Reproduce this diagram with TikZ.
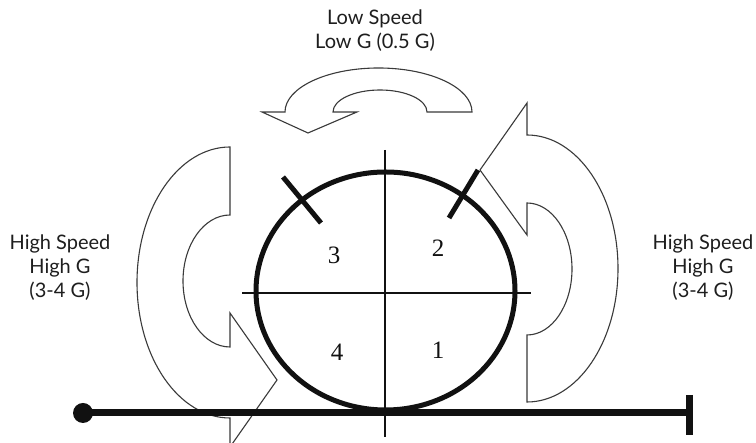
\documentclass[tikz,border=0pt]{standalone}
\usepackage{fontspec}
\setmainfont{Lato}
\newfontfamily\quadfont{Liberation Serif}
\usepackage{tikz}
\usetikzlibrary{
  calc,
  positioning
}
\definecolor{ink}{HTML}{111111}
\definecolor{outline}{HTML}{3A3A3A}
\definecolor{labelink}{HTML}{1E1E1E}
\definecolor{paper}{HTML}{FFFFFF}
\tikzset{
  wheel/.style={
    draw=ink,
    line width=5pt
  },
  axis/.style={
    draw=ink,
    line width=2.6pt
  },
  tickmark/.style={
    draw=ink,
    line width=5pt
  },
  ground/.style={
    draw=ink,
    line width=7pt
  },
  turn/.style={
    draw=outline,
    fill=paper,
    line width=1.1pt,
    line join=miter
  },
  speedlabel/.style={
    text=labelink,
    font=\fontsize{20}{24}\selectfont,
    align=center,
    inner sep=0pt
  },
  quadrant/.style={
    text=ink,
    font=\quadfont\fontsize{25}{25}\selectfont,
    inner sep=0pt
  }
}

\begin{document}
\begin{tikzpicture}[x=1pt, y=1pt]
  \clip (0,0) rectangle (756,443);
  \fill[paper] (0,0) rectangle (756,443);
  % speed labels
  \node[speedlabel] (low) at (375,412) {Low Speed\\Low G (0.5 G)};
  \node[speedlabel] (highleft) at (60,175) {High Speed\\High G\\(3-4 G)};
  \node[speedlabel] (highright) at (703,175) {High Speed\\High G\\(3-4 G)};
  % turning arrows
  \draw[turn] (472,331)
    arc[start angle=0, end angle=180, x radius=93.5pt, y radius=44pt]
    -- (262,331) -- (308,310) -- (357,331) -- (333,331)
    arc[start angle=180, end angle=0, x radius=47pt, y radius=22pt]
    -- cycle;
  \draw[turn] (230,296)
    arc[start angle=90, end angle=270, x radius=93pt, y radius=135.5pt]
    -- (230,-4) -- (277,63) -- (230,130) -- (230,96)
    arc[start angle=270, end angle=90, x radius=47pt, y radius=66pt]
    -- cycle;
  \draw[turn] (527,41)
    arc[start angle=-90, end angle=90, x radius=91pt, y radius=133.5pt]
    -- (527,340) -- (480,273) -- (527,208) -- (527,240)
    arc[start angle=90, end angle=-90, x radius=45pt, y radius=66pt]
    -- cycle;
  % ground
  \coordinate (pin) at (83,30);
  \coordinate (stop) at (689,30);
  \draw[ground] (pin) -- (stop);
  \fill[ink] (pin) circle (10pt);
  \draw[ground] ([yshift=18pt]stop) -- ([yshift=-22pt]stop);
  % wheel and quadrants
  \coordinate (hub) at (385.5,152);
  \draw[axis] (385,293) -- (385,6);
  \draw[axis] (242,150) -- (531,150);
  \draw[wheel] (hub) ellipse [x radius=129.5pt, y radius=119pt];
  \draw[tickmark] (283,266) -- (321,220);
  \draw[tickmark] (478,273) -- (449,225);
  \node[quadrant] (q1) at (438,93) {1};
  \node[quadrant] (q2) at (438,195) {2};
  \node[quadrant] (q3) at (334,188) {3};
  \node[quadrant] (q4) at (337,91) {4};
\end{tikzpicture}
\end{document}
